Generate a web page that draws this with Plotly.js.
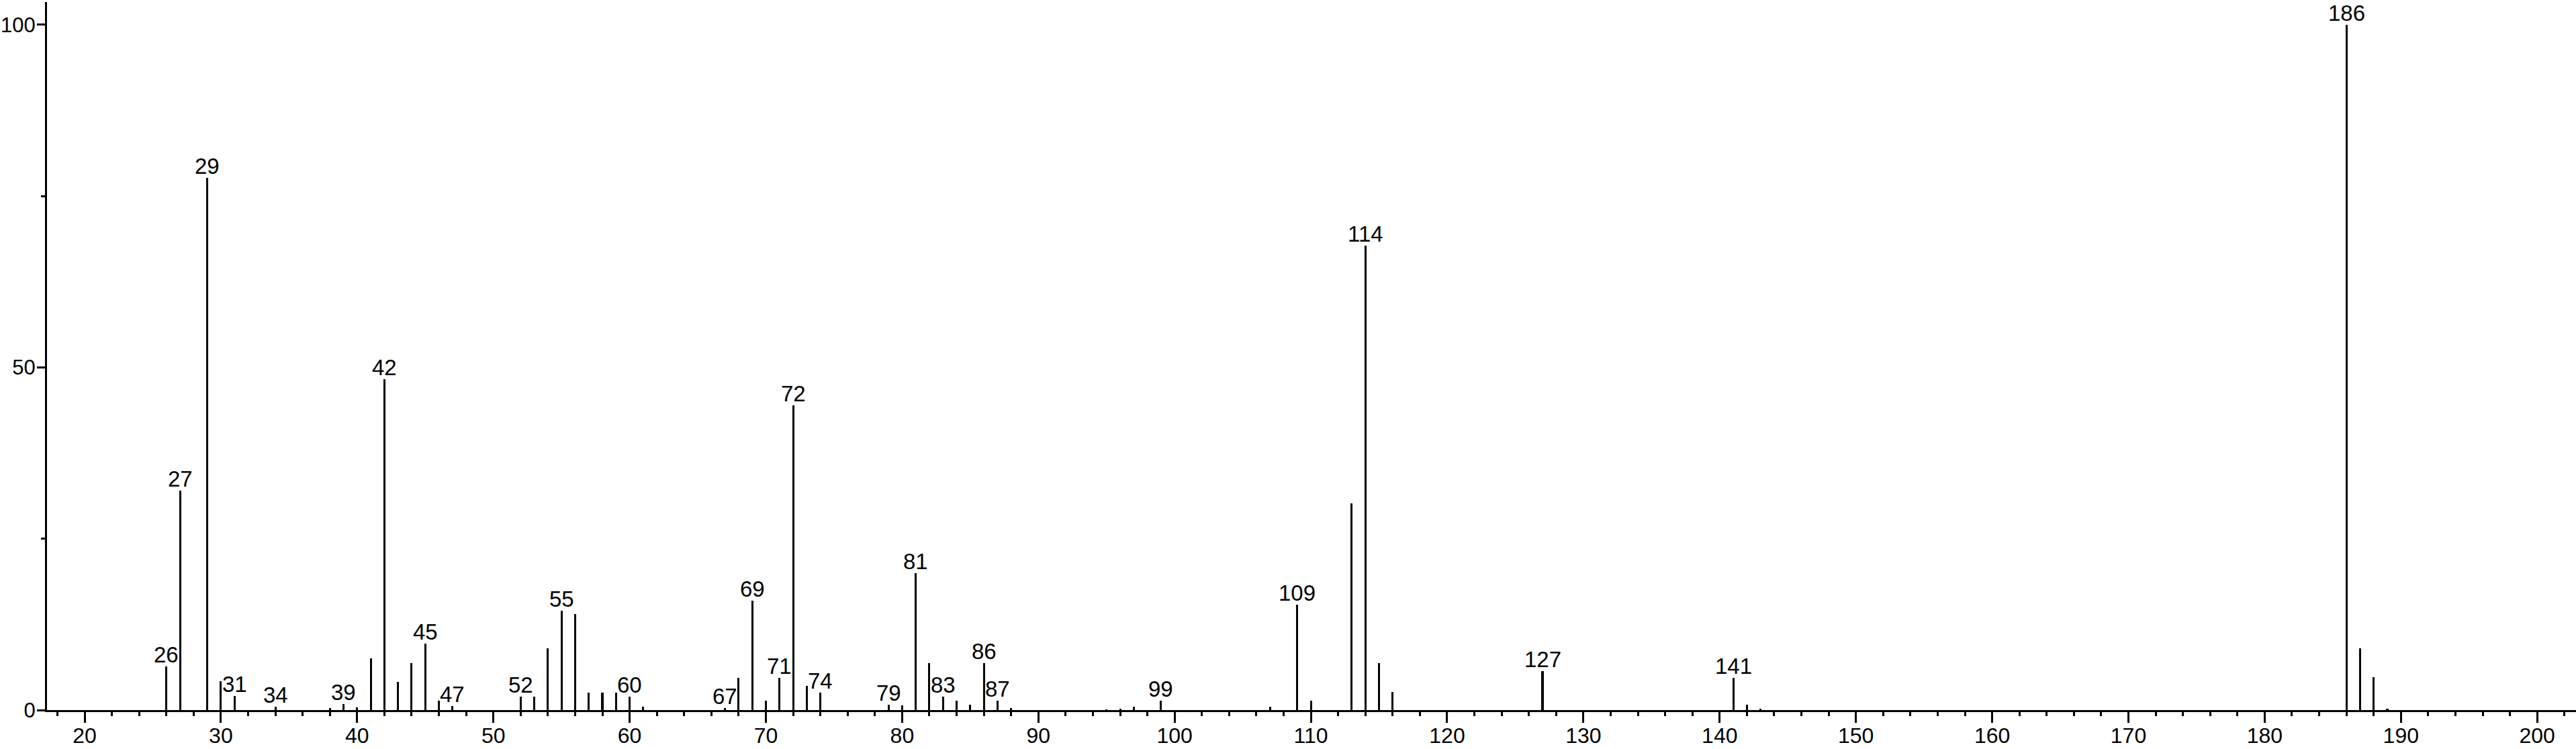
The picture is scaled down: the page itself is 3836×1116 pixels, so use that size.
<!DOCTYPE html>
<html>
<head>
<meta charset="utf-8">
<script src="https://cdn.plot.ly/plotly-3.0.1.min.js"></script>
<style>
  html, body { margin: 0; padding: 0; background: #ffffff; }
  #chart { width: 3836px; height: 1116px; }
</style>
</head>
<body>
<div id="chart"></div>
<script>
// m/z values of the spectrum lines
const mz = [26, 27, 29, 30, 31, 34, 38, 39, 40, 41, 42, 43, 44, 45, 46, 47,
            52, 53, 54, 55, 56, 57, 58, 59, 60, 61, 67, 68, 69, 70, 71, 72, 73, 74,
            79, 80, 81, 82, 83, 84, 85, 86, 87, 88, 95, 96, 97, 99, 107, 109, 110,
            113, 114, 115, 116, 127, 141, 142, 143, 186, 187, 188, 189];
// relative intensities (%)
const intensity = [6.4, 32.0, 77.6, 4.2, 2.1, 0.5, 0.3, 0.9, 0.4, 7.5, 48.3, 4.1, 6.9, 9.7, 1.4, 0.55,
                   2.0, 2.0, 9.0, 14.5, 14.0, 2.5, 2.5, 2.5, 2.0, 0.5, 0.3, 4.7, 16.0, 1.4, 4.7, 44.5, 3.5, 2.5,
                   0.8, 0.7, 20.0, 6.9, 2.0, 1.4, 0.8, 6.9, 1.4, 0.3, 0.1, 0.2, 0.5, 1.4, 0.5, 15.4, 1.4,
                   30.2, 67.8, 6.9, 2.6, 5.7, 4.7, 0.8, 0.2, 100, 9.0, 4.8, 0.2];
// lines that carry an m/z label
const labeledMz = [26, 27, 29, 31, 34, 39, 42, 45, 47, 52, 55, 60, 67, 69, 71, 72, 74,
                   79, 81, 83, 86, 87, 99, 109, 114, 127, 141, 186];
// axis ticks
const xTickVals = [20, 30, 40, 50, 60, 70, 80, 90, 100, 110, 120, 130, 140, 150, 160, 170, 180, 190, 200];
const yTickVals = [0, 50, 100];

const FONT = "Liberation Sans, Arial, Helvetica, sans-serif";

const bars = {
  type: 'bar',
  x: mz,
  y: intensity,
  width: 0.15,
  marker: { color: '#000000', line: { width: 0 } },
  hoverinfo: 'x+y',
  showlegend: false
};

const annotations = labeledMz.map(function (m) {
  const v = intensity[mz.indexOf(m)];
  return {
    x: m, y: v, xref: 'x', yref: 'y',
    text: String(m),
    showarrow: false,
    xanchor: 'center', yanchor: 'bottom',
    yshift: -3,
    font: { family: FONT, size: 33, color: '#000000' }
  };
});

const layout = {
  width: 3836,
  height: 1116,
  paper_bgcolor: '#ffffff',
  plot_bgcolor: '#ffffff',
  margin: { l: 70, r: 0, t: 3, b: 58, pad: 0 },
  bargap: 0,
  showlegend: false,
  xaxis: {
    range: [17.24, 202.85],
    tickmode: 'array',
    tickvals: xTickVals,
    ticktext: xTickVals.map(String),
    ticks: 'outside',
    ticklen: 16,
    tickwidth: 3,
    tickcolor: '#000000',
    ticklabelstandoff: -8,
    minor: { dtick: 2, tick0: 0, ticks: 'outside', ticklen: 6, tickwidth: 3, tickcolor: '#000000', showgrid: false },
    showline: true,
    linewidth: 3,
    linecolor: '#000000',
    showgrid: false,
    zeroline: false,
    tickfont: { family: FONT, size: 32, color: '#000000' }
  },
  yaxis: {
    range: [0, 103.3],
    tickmode: 'array',
    tickvals: yTickVals,
    ticktext: yTickVals.map(String),
    ticks: 'outside',
    ticklen: 12,
    tickwidth: 3,
    tickcolor: '#000000',
    ticklabelstandoff: -4,
    minor: { dtick: 25, tick0: 0, ticks: 'outside', ticklen: 6, tickwidth: 3, tickcolor: '#000000', showgrid: false },
    showline: true,
    linewidth: 3,
    linecolor: '#000000',
    showgrid: false,
    zeroline: false,
    tickfont: { family: FONT, size: 31, color: '#000000' }
  },
  annotations: annotations
};

Plotly.newPlot('chart', [bars], layout, { staticPlot: true, displayModeBar: false });
</script>
</body>
</html>
